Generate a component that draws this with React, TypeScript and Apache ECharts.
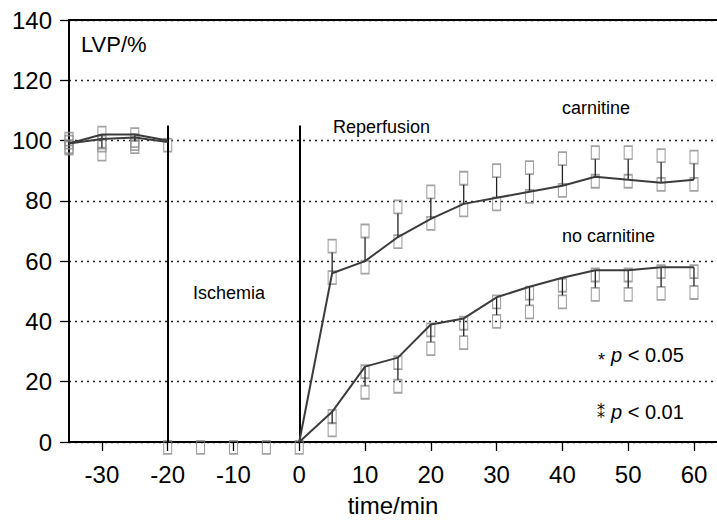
import React, { useEffect, useRef } from 'react';
import * as echarts from 'echarts';

const times = [-35, -30, -25, -20, -15, -10, -5, 0, 5, 10, 15, 20, 25, 30, 35, 40, 45, 50, 55, 60];
const carnitineMean = [99, 102, 102, 100, null, null, null, 0, 56, 60, 68, 74, 79, 81, 83, 85, 88, 87, 86, 87];
const carnitineUpper = [100.5, 102.5, 102, 98.5, null, null, null, null, 65, 70, 78, 83, 87.5, 90, 91, 94, 96, 96, 95, 94.5];
const carnitineLower = [98, 98.5, 99, null, null, null, null, null, 54.5, 58, 66.5, 72.5, 77, 79, 81.5, 83.5, 86.5, 86.5, 85.5, 85.5];
const noCarnitineMean = [99, 100.5, 101, 99.5, null, null, null, 0, 10, 25, 28, 39, 41, 48, 51.5, 54.5, 57, 57, 58, 58];
const noCarnitineUpper = [99.5, 99.5, 100, null, null, null, null, null, 8.5, 23.3, 26.3, 37.2, 39.4, 46.5, 49.4, 52, 55.4, 55.4, 56.5, 56.5];
const noCarnitineLower = [97.5, 95.5, 98, null, null, null, null, null, 4, 16.5, 18.5, 31, 33, 40, 43.2, 46.5, 49, 49, 49.3, 49.6];
const ischemiaTimes = [-20, -15, -10, -5, 0];
const ischemiaValues = [-1.8, -1.8, -1.8, -1.8, -1.8];
const xTickValues = [-30, -20, -10, 0, 10, 20, 30, 40, 50, 60];
const phaseLines = [-20, 0];
const phaseLineTop = 105;

const FONT = 'Liberation Sans, Arial, sans-serif';
const LINE_COLOR = '#3c3c3c';
const MARK_COLOR = '#8c8c8c';
const HALF_H = 6.5;

function pairs(vals: (number | null)[]) {
  return times.map((t, i) => [t, vals[i] === null ? '-' : vals[i]]);
}
function points(vals: (number | null)[]) {
  const out: number[][] = [];
  times.forEach((t, i) => {
    if (vals[i] !== null) out.push([t, vals[i] as number]);
  });
  return out;
}
function bars(mean: (number | null)[], end: (number | null)[], dir: number) {
  const out: number[][] = [];
  times.forEach((t, i) => {
    if (mean[i] !== null && end[i] !== null) out.push([t, mean[i] as number, end[i] as number, dir]);
  });
  return out;
}

const markerStyle = {
  color: 'rgba(255,255,255,0)',
  borderColor: MARK_COLOR,
  borderWidth: 1.4,
};

function scatter(data: number[][]) {
  return {
    type: 'scatter',
    data,
    symbol: 'rect',
    symbolSize: [8, 13],
    itemStyle: markerStyle,
    clip: false,
    silent: true,
    z: 3,
  };
}

function errorSeries(data: number[][]) {
  return {
    type: 'custom',
    data,
    clip: false,
    silent: true,
    z: 4,
    renderItem: (params: any, api: any) => {
      const t = api.value(0);
      const p1 = api.coord([t, api.value(1)]);
      const p2 = api.coord([t, api.value(2)]);
      const dir = api.value(3);
      const y2 = dir > 0 ? p2[1] + HALF_H : p2[1] - HALF_H;
      return {
        type: 'line',
        shape: { x1: p1[0], y1: p1[1], x2: p2[0], y2 },
        style: { stroke: '#222', lineWidth: 1.3 },
      };
    },
  };
}

const option: any = {
  animation: false,
  backgroundColor: '#fff',
  textStyle: { fontFamily: FONT },
  grid: { left: 69, right: 0, top: 20, bottom: 80, containLabel: false, outerBoundsMode: 'none' },
  xAxis: [
    {
      type: 'value',
      min: -35,
      max: 63.5,
      name: 'time/min',
      nameLocation: 'middle',
      nameGap: 51,
      nameTextStyle: { fontSize: 24, color: '#000', fontFamily: FONT },
      axisLine: { show: true, onZero: false, lineStyle: { color: '#000', width: 2 } },
      axisTick: { show: true, length: 9, customValues: xTickValues, lineStyle: { color: '#000', width: 1.3 } },
      axisLabel: { customValues: xTickValues, fontSize: 24, color: '#000', margin: 20, fontFamily: FONT },
      splitLine: { show: false },
    },
    {
      type: 'value',
      position: 'top',
      min: -35,
      max: 63.5,
      axisLine: { show: true, onZero: false, lineStyle: { color: '#000', width: 2 } },
      axisTick: { show: false },
      axisLabel: { show: false },
      splitLine: { show: false },
    },
  ],
  yAxis: {
    type: 'value',
    min: 0,
    max: 140,
    interval: 20,
    axisLine: { show: true, onZero: false, lineStyle: { color: '#000', width: 2 } },
    axisTick: { show: true, length: 9, lineStyle: { color: '#000', width: 1.3 } },
    axisLabel: { fontSize: 24, color: '#000', margin: 17, fontFamily: FONT },
    splitLine: { show: true, lineStyle: { color: '#222', width: 1.3, type: [2, 4] } },
  },
  series: [
    {
      type: 'line',
      name: 'carnitine',
      data: pairs(carnitineMean),
      showSymbol: false,
      connectNulls: false,
      lineStyle: { color: LINE_COLOR, width: 2 },
      z: 5,
      silent: true,
      markLine: {
        silent: true,
        symbol: ['none', 'none'],
        label: { show: false },
        lineStyle: { color: '#000', width: 2, type: 'solid' },
        data: phaseLines.map((x) => [{ coord: [x, phaseLineTop] }, { coord: [x, 0] }]),
      },
    },
    {
      type: 'line',
      name: 'no carnitine',
      data: pairs(noCarnitineMean),
      showSymbol: false,
      connectNulls: false,
      lineStyle: { color: LINE_COLOR, width: 2 },
      z: 5,
      silent: true,
    },
    errorSeries(bars(carnitineMean, carnitineUpper, 1)),
    errorSeries(bars(noCarnitineMean, noCarnitineLower, -1)),
    scatter(points(carnitineUpper)),
    scatter(points(carnitineLower)),
    scatter(points(noCarnitineUpper)),
    scatter(points(noCarnitineLower)),
    scatter(ischemiaTimes.map((t, i) => [t, ischemiaValues[i]])),
  ],
  graphic: [
    { type: 'text', x: 81, y: 44, style: { text: 'LVP/%', fontSize: 22, fill: '#000', fontFamily: FONT, verticalAlign: 'middle' } },
    { type: 'text', x: 333, y: 127, style: { text: 'Reperfusion', fontSize: 18, fill: '#000', fontFamily: FONT, verticalAlign: 'middle' } },
    { type: 'text', x: 562, y: 108, style: { text: 'carnitine', fontSize: 18, fill: '#000', fontFamily: FONT, verticalAlign: 'middle' } },
    { type: 'text', x: 562, y: 236, style: { text: 'no carnitine', fontSize: 18, fill: '#000', fontFamily: FONT, verticalAlign: 'middle' } },
    { type: 'text', x: 193, y: 293, style: { text: 'Ischemia', fontSize: 18, fill: '#000', fontFamily: FONT, verticalAlign: 'middle' } },
    { type: 'text', x: 598, y: 360, style: { text: '*', fontSize: 18, fill: '#000', fontFamily: FONT, verticalAlign: 'middle' } },
    {
      type: 'text', x: 611, y: 355,
      style: {
        text: '{i|p} < 0.05', fontSize: 20, fill: '#000', fontFamily: FONT, verticalAlign: 'middle',
        rich: { i: { fontStyle: 'italic', fontSize: 20, fontFamily: FONT } },
      },
    },
    { type: 'text', x: 597, y: 412, style: { text: '\u2051', fontSize: 16, fill: '#000', fontFamily: 'DejaVu Sans', verticalAlign: 'middle' } },
    {
      type: 'text', x: 611, y: 412,
      style: {
        text: '{i|p} < 0.01', fontSize: 20, fill: '#000', fontFamily: FONT, verticalAlign: 'middle',
        rich: { i: { fontStyle: 'italic', fontSize: 20, fontFamily: FONT } },
      },
    },
  ],
};

export default function App() {
  const ref = useRef<HTMLDivElement>(null);
  useEffect(() => {
    const chart = echarts.init(ref.current!, null, { renderer: 'svg' });
    chart.setOption(option);
    return () => chart.dispose();
  }, []);
  return <div ref={ref} style={{ position: 'absolute', left: 0, top: 0, width: 717, height: 522 }} />;
}
